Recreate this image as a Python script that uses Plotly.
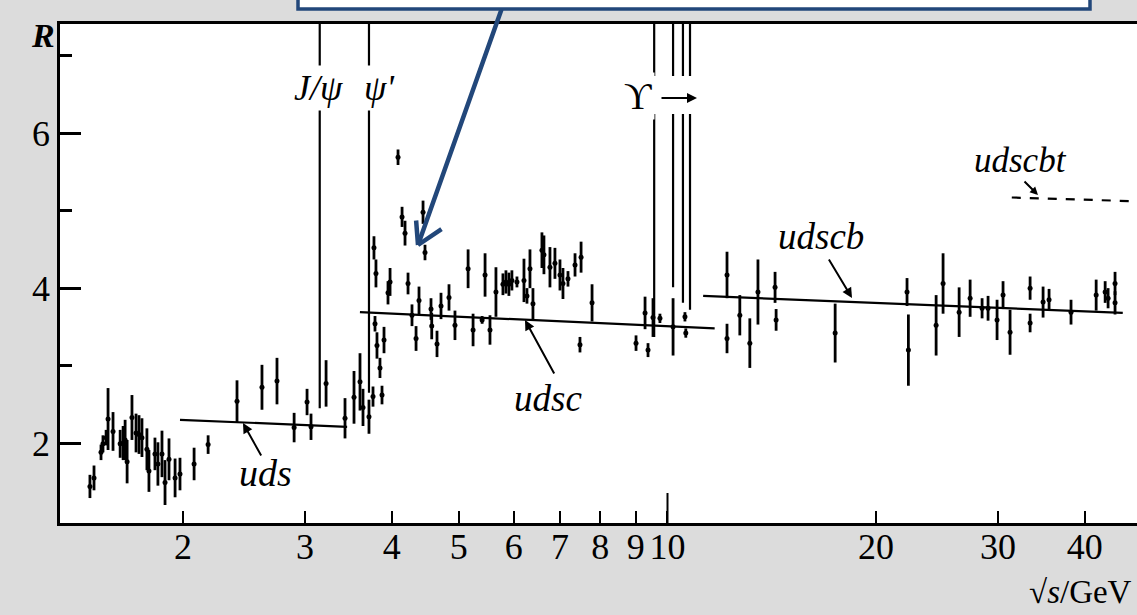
import math
import plotly.graph_objects as go

# ---------------- data ----------------
# measured R values: sqrt(s) [GeV], R, error
x_lo = [1.468, 1.488, 1.523, 1.533, 1.549, 1.559, 1.585, 1.623, 1.639, 1.650, 1.661,
        1.688, 1.711, 1.728, 1.745, 1.774, 1.786, 1.822, 1.840, 1.865, 1.884, 1.909,
        1.948, 1.980, 2.075, 2.174]
r_lo = [1.44, 1.55, 1.88, 1.99, 2.07, 2.31, 2.15, 1.99, 2.00, 2.04, 1.76,
        2.33, 2.13, 2.11, 2.07, 1.92, 1.64, 1.86, 1.73, 1.86, 1.49, 1.79,
        1.55, 1.60, 1.73, 1.98]
e_lo = [0.15, 0.16, 0.10, 0.11, 0.10, 0.40, 0.25, 0.18, 0.22, 0.26, 0.28,
        0.29, 0.25, 0.25, 0.25, 0.27, 0.27, 0.21, 0.28, 0.30, 0.29, 0.27,
        0.25, 0.21, 0.21, 0.12]

x_mid = [2.393, 2.600, 2.733, 2.893, 3.020, 3.060, 3.217, 3.426, 3.530, 3.601, 3.637,
         3.710, 3.760, 3.785, 3.810, 3.848, 3.874, 3.900, 3.772, 3.797, 3.979, 3.952,
         4.086, 4.141, 4.182, 4.440, 4.469, 4.224, 4.280, 4.381, 4.559, 4.713, 4.840,
         5.157, 5.456, 5.657, 5.790, 5.848, 5.906, 5.965, 6.066, 6.209, 6.271, 6.334,
         6.397, 6.591, 6.635, 6.769, 6.882, 6.998, 7.068, 7.187, 7.357, 7.506,
         4.338, 4.570, 4.651, 4.937, 5.243, 5.403, 5.546, 7.479, 7.785]
r_mid = [2.54, 2.72, 2.80, 2.20, 2.53, 2.21, 2.77, 2.32, 2.59, 2.79, 2.46,
         2.34, 2.60, 3.54, 3.26, 2.97, 2.62, 3.33, 4.52, 4.19, 4.08, 3.94,
         5.69, 4.92, 4.71, 4.98, 4.46, 4.06, 3.65, 3.84, 3.73, 3.77, 3.88,
         4.25, 4.17, 3.95, 4.05, 4.08, 4.05, 4.10, 4.08, 4.10, 3.90, 4.25,
         3.80, 4.49, 4.43, 4.27, 4.32, 4.17, 4.06, 4.12, 4.30, 4.40,
         3.35, 3.51, 3.28, 3.52, 3.46, 3.59, 3.46, 3.27, 3.81]
e_mid = [0.27, 0.29, 0.30, 0.19, 0.17, 0.17, 0.30, 0.26, 0.34, 0.37, 0.24,
         0.22, 0.13, 0.10, 0.17, 0.13, 0.12, 0.17, 0.15, 0.18, 0.18, 0.15,
         0.10, 0.13, 0.16, 0.15, 0.10, 0.14, 0.14, 0.18, 0.14, 0.17, 0.17,
         0.25, 0.28, 0.32, 0.14, 0.15, 0.15, 0.13, 0.07, 0.28, 0.10, 0.25,
         0.20, 0.23, 0.25, 0.26, 0.20, 0.20, 0.20, 0.10, 0.15, 0.20,
         0.16, 0.17, 0.17, 0.19, 0.21, 0.05, 0.19, 0.10, 0.24]

x_hi = [9.010, 9.284, 9.376, 9.533, 9.755, 10.19, 10.60, 10.63, 12.19, 12.19, 12.72,
        13.15, 13.51, 14.30, 14.35, 17.46, 22.17, 22.27, 24.42, 24.99, 26.36, 27.34,
        28.45, 29.02, 29.90, 30.50, 31.22, 33.37, 33.37, 34.84, 35.54, 38.23, 41.56,
        42.82, 43.24, 44.25, 44.25]
r_hi = [3.29, 3.68, 3.20, 3.62, 3.61, 3.50, 3.63, 3.42, 4.17, 3.35, 3.65,
        3.29, 3.95, 4.01, 3.59, 3.42, 3.95, 3.20, 3.52, 4.06, 3.69, 3.87,
        3.74, 3.74, 3.59, 3.91, 3.43, 4.00, 3.55, 3.82, 3.85, 3.69, 3.91,
        3.95, 3.87, 4.06, 3.81]
e_hi = [0.10, 0.21, 0.09, 0.25, 0.06, 0.37, 0.06, 0.06, 0.30, 0.19, 0.26,
        0.32, 0.42, 0.20, 0.14, 0.38, 0.18, 0.46, 0.39, 0.39, 0.32, 0.24,
        0.13, 0.16, 0.26, 0.18, 0.29, 0.15, 0.12, 0.20, 0.14, 0.16, 0.20,
        0.14, 0.13, 0.15, 0.15]

# quark-parton model predictions (start/end of each line)
uds_x, uds_r = [1.98, 3.45], [2.30, 2.21]
udsc_x, udsc_r = [3.60, 11.7], [3.69, 3.48]
udscb_x, udscb_r = [11.26, 45.4], [3.90, 3.68]
udscbt_x, udscbt_r = [31.4, 48.0], [5.17, 5.12]

# narrow resonances (peaks go off scale)
res_x = [3.15, 3.71, 9.57, 10.19, 10.53, 10.78]
res_base = [2.45, 2.65, 3.37, 4.01, 3.81, 3.72]
res_peak = 8.0

# axis ticks
x_ticks = [2, 3, 4, 5, 6, 7, 8, 9, 10, 20, 30, 40]
x_ticktext = [str(v) for v in x_ticks]
y_ticks = [2, 4, 6]
y_minor = [3, 5, 7]

# ---------------- figure ----------------
W, H = 1137, 615
ML, MR, MT, MB = 60, 0, 24, 92
PW, PH = W - ML - MR, H - MT - MB
X_RANGE = [1.329, 47.6]
Y_RANGE = [0.968, 7.41]

SERIF = "Liberation Serif, Times New Roman, DejaVu Serif, serif"
BLUE = "#22477a"
TICKSIZE = 36


def px(xp):
    return (xp - ML) / PW


def py(yp):
    return (H - MB - yp) / PH


fig = go.Figure()

# resonance lines
rx, ry = [], []
for xv, b in zip(res_x, res_base):
    rx += [xv, xv, None]
    ry += [b, res_peak, None]
fig.add_trace(go.Scatter(x=rx, y=ry, mode="lines",
                         line=dict(color="black", width=2.2), hoverinfo="skip"))

# theory lines
for xs, rs, dash in [(uds_x, uds_r, "solid"), (udsc_x, udsc_r, "solid"),
                     (udscb_x, udscb_r, "solid"), (udscbt_x, udscbt_r, "dash")]:
    fig.add_trace(go.Scatter(x=xs, y=rs, mode="lines",
                             line=dict(color="black", width=2.2, dash=dash),
                             hoverinfo="skip"))

# data points
for xs, rs, es in [(x_lo, r_lo, e_lo), (x_mid, r_mid, e_mid), (x_hi, r_hi, e_hi)]:
    fig.add_trace(go.Scatter(
        x=xs, y=rs, mode="markers",
        marker=dict(color="black", size=5),
        error_y=dict(type="data", array=es, visible=True, color="black",
                     thickness=2.8, width=0)))

shapes = [
    # long tick at 10
    dict(type="line", xref="paper", yref="paper", x0=px(667.5), x1=px(667.5),
         y0=0, y1=30 / PH, line=dict(color="black", width=2)),
    # gap in the Upsilon lines for its label
    dict(type="rect", xref="paper", yref="paper", x0=px(648), x1=px(700),
         y0=py(114), y1=py(76), fillcolor="white", line=dict(width=0), layer="above"),
    # blue box at the top
    dict(type="rect", xref="paper", yref="paper", x0=px(298), x1=px(1090),
         y0=py(9), y1=py(-10), fillcolor="white", line=dict(color=BLUE, width=3.5),
         layer="above"),
]

ann = []


def label(text, xp, yp, size=36, bg=None, anchor="center"):
    d = dict(text=text, xref="paper", yref="paper", x=px(xp), y=py(yp),
             showarrow=False, xanchor=anchor, yanchor="middle",
             font=dict(family=SERIF, size=size, color="black"))
    if bg:
        d.update(bgcolor=bg, borderpad=2)
    ann.append(d)


def arrow(tipx, tipy, ax, ay, color="black", width=2, head=2, size=1.0):
    ann.append(dict(text="", xref="paper", yref="paper", x=px(tipx), y=py(tipy),
                    ax=ax, ay=ay, showarrow=True, arrowhead=head, arrowsize=size,
                    arrowwidth=width, arrowcolor=color, standoff=0, startstandoff=0))


label("<b><i>R</i></b>", 43, 35, size=34)
label("<i>J/ψ</i>", 318, 88, size=36, bg="white")
label("<i>ψ'</i>", 379, 88, size=36, bg="white")
label("ϒ", 638, 96, size=38, bg="white")
arrow(697, 98, -37, 0, width=2, head=2, size=1.0)

label("<i>uds</i>", 265, 473, size=38)
arrow(243, 423, 19, 34)
label("<i>udsc</i>", 548, 398, size=37)
arrow(525, 320, 30, 55)
label("<i>udscb</i>", 821, 236, size=37)
arrow(852, 298, -24, -40)
label("<i>udscbt</i>", 1020, 160, size=35)
arrow(1038, 195, -15, -15, head=2, size=0.8)

ann.append(dict(text="√<i>s</i>/GeV", xref="paper", yref="paper",
                x=px(1134), y=py(612), showarrow=False, xanchor="right",
                yanchor="bottom", font=dict(family=SERIF, size=33, color="black")))

# blue pointer arrow
arrow(418, 245, 84, -237, color=BLUE, width=4.5, head=0)
arrow(418, 245, -2, -26, color=BLUE, width=4.5, head=0)
arrow(418, 245, 25, -17, color=BLUE, width=4.5, head=0)

xaxis = dict(type="log", range=[math.log10(X_RANGE[0]), math.log10(X_RANGE[1])],
             tickvals=x_ticks, ticktext=x_ticktext, ticks="inside", ticklen=12,
             tickwidth=2, tickcolor="black", showgrid=False, zeroline=False,
             showline=True, linecolor="black", linewidth=2.5, mirror=True,
             tickfont=dict(family=SERIF, size=TICKSIZE, color="black"))

fig.update_layout(
    width=W, height=H,
    margin=dict(l=ML, r=MR, t=MT, b=MB),
    paper_bgcolor="#dcdcdc", plot_bgcolor="white",
    showlegend=False,
    font=dict(family=SERIF, color="black"),
    shapes=shapes, annotations=ann,
    yaxis=dict(range=Y_RANGE, tickvals=y_ticks, ticks="inside", ticklen=21,
               tickwidth=2.5, tickcolor="black", showgrid=False, zeroline=False,
               showline=True, linecolor="black", linewidth=2.5,
               minor=dict(tickvals=y_minor, ticks="inside", ticklen=12,
                          tickwidth=2.5, tickcolor="black", showgrid=False),
               tickfont=dict(family=SERIF, size=TICKSIZE, color="black")),
)
try:
    fig.update_layout(xaxis=dict(xaxis, ticklabelstandoff=-10))
except Exception:
    fig.update_layout(xaxis=xaxis)

fig.write_html("out.html", config={"displayModeBar": False},
               post_script="document.body.style.margin='0';document.body.style.padding='0';")
